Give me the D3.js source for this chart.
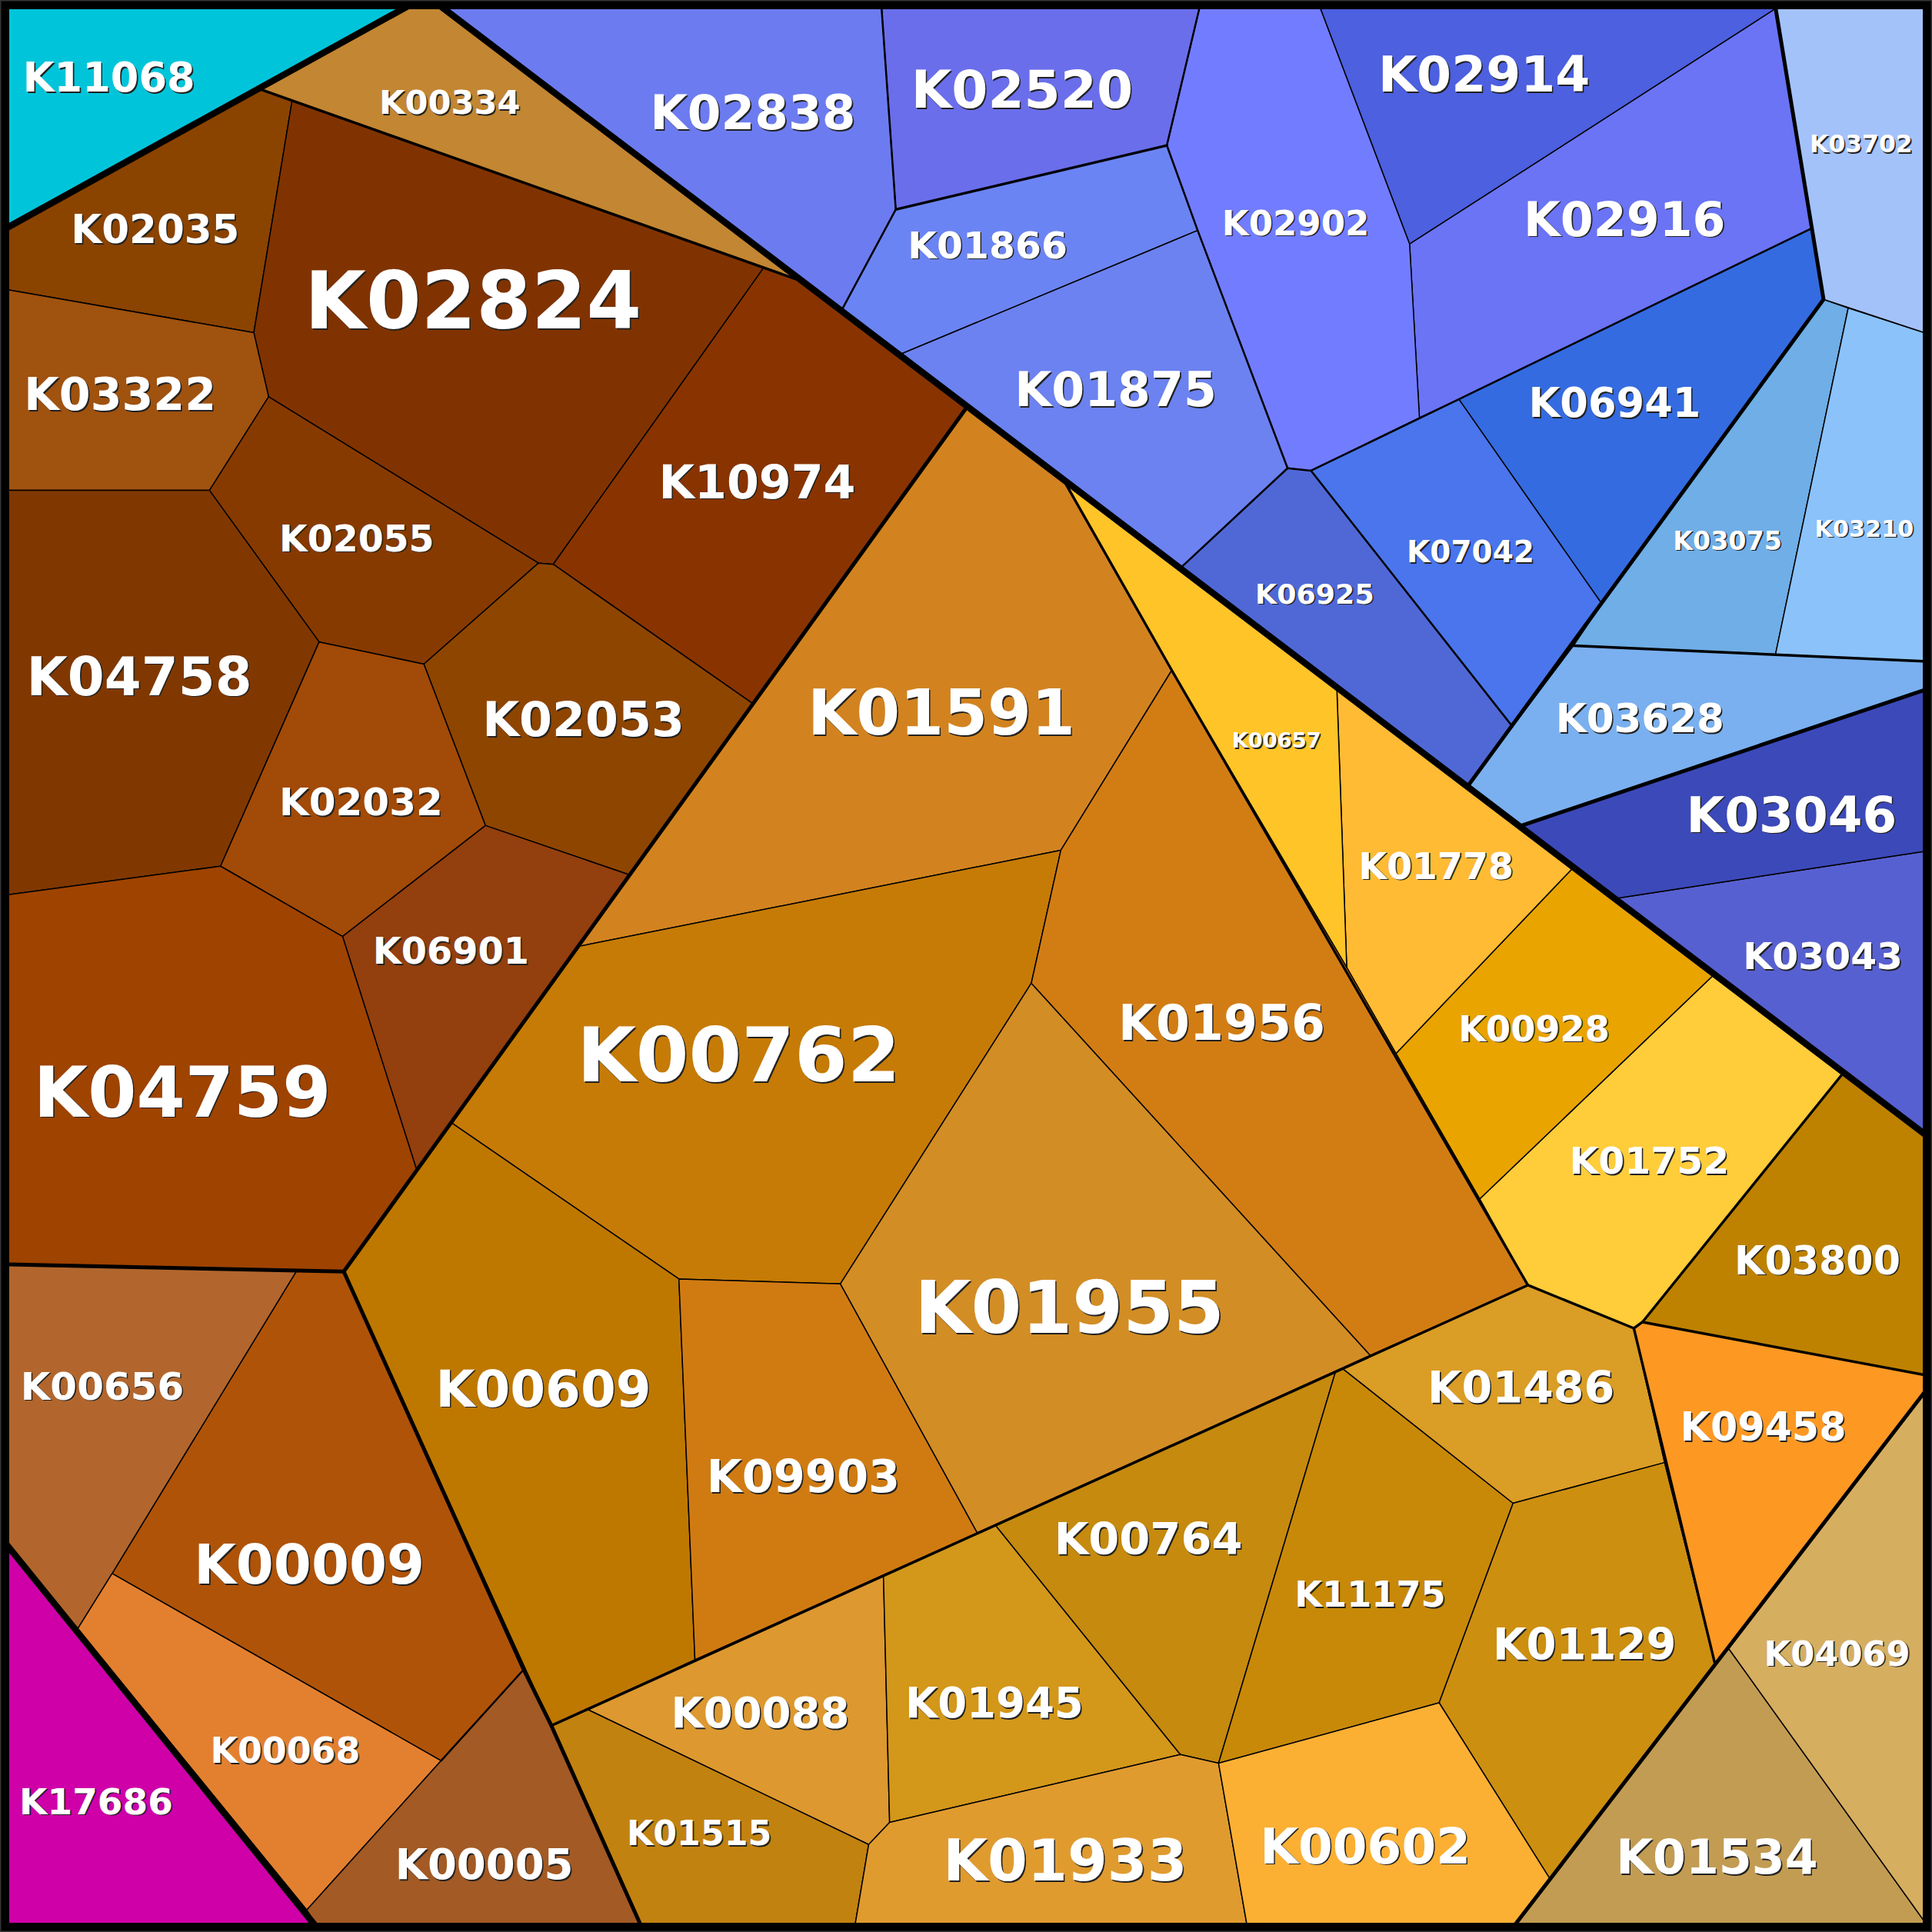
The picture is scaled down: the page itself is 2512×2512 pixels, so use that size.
<!DOCTYPE html>
<html>
<head>
<meta charset="utf-8">
<script src="https://cdn.jsdelivr.net/npm/d3@7"></script>
<style>
html,body {margin:0;padding:0;background:#000;}
svg {display:block;}
text {font-family:"DejaVu Sans";font-weight:bold;text-anchor:middle;}
</style>
</head>
<body>
<div id="chart"></div>
<script>
// cell names
const cellIds = ["K11068","K00334","K02035","K02824","K10974","K03322","K02055","K04758","K02053","K02032","K06901","K04759",
    "K01591","K00762","K01956","K01955","K00609","K09903","K00009","K00656","K00068","K00005","K17686",
    "K00088","K01515","K01945","K00764","K01933","K11175","K01486","K01129","K00602","K09458","K03800","K01752","K00928","K01778","K00657",
    "K01534","K04069","K03043","K03046","K03628","K03075","K03210","K03702","K02916","K02914","K06941","K07042","K06925","K02902","K02520","K01866","K02838","K01875"];

const cellColors = ["#00c5da","#c38632","#8b4300","#803300","#893400","#a0520f","#873a00","#803800","#8e4500","#a24a07","#933f0e","#9f4300",
    "#d28320","#c67b06","#d27d14","#d28d25","#be7800","#d07b12","#af5309","#b2662d","#e38030","#a35a24","#cf00a8",
    "#dd982f","#c28210","#d3971a","#c58a0e","#e09b2f","#c88908","#da9d25","#cc8f10","#fbb034","#fd9823","#be8200","#ffcc3a","#e9a400","#ffbb33","#ffc428",
    "#c29c52","#d6ae60","#5760d0","#3c49b9","#7ab0f0","#6faee6","#8bc2fa","#a4c2fa","#6a74f4","#4c60e0","#346be0","#4a75ec","#5068d6","#727cff","#6a6eeb","#6b84f3","#6c7cf0","#6b82f0"];

// cell outlines in the 1568 wide picture space
const cellPolygons = [
    [[0,0],[340,0],[0,188]],
    [[327,7],[360,7],[653,229],[210,72]],
    [[210,72],[237,82],[206,270],[0,234],[0,188]],
    [[237,82],[620,217],[449,458],[437,457],[218,322],[206,270]],
    [[620,217],[653,229],[785,330],[611,571],[449,458]],
    [[0,234],[206,270],[218,322],[170,398],[0,398]],
    [[218,322],[437,457],[344,539],[259,521],[170,398]],
    [[0,398],[170,398],[259,521],[179,703],[0,727]],
    [[437,457],[449,458],[611,571],[511,710],[394,670],[344,539]],
    [[259,521],[344,539],[394,670],[278,760],[179,703]],
    [[394,670],[511,710],[338,949],[278,760]],
    [[0,727],[179,703],[278,760],[338,949],[279,1032],[0,1026]],
    [[785,330],[864,391],[951,544],[861,690],[470,768]],
    [[470,768],[861,690],[837,798],[682,1042],[551,1038],[366,911]],
    [[951,544],[1093,785],[1133,855],[1201,973],[1240,1043],[1112,1100],[837,798],[861,690]],
    [[837,798],[1112,1100],[793,1244],[682,1042]],
    [[366,911],[551,1038],[564,1347],[447.5,1400.5],[279,1032]],
    [[551,1038],[682,1042],[793,1244],[564,1347]],
    [[241,1031],[279,1032],[425,1355],[358,1429],[91,1277]],
    [[0,1026],[241,1031],[91,1277],[63,1322],[0,1247]],
    [[91,1277],[358,1429],[249,1550],[63,1322]],
    [[425,1355],[447.5,1400.5],[522.5,1568],[260,1568],[249,1550],[358,1429]],
    [[0,1247],[260,1568],[0,1568]],
    [[476,1387],[717,1279],[722,1479],[705,1497]],
    [[447.5,1400.5],[476,1387],[705,1497],[693,1568],[522.5,1568]],
    [[717,1279],[808,1238],[958,1424],[722,1479]],
    [[808,1238],[1084,1113],[989,1431],[958,1424]],
    [[705,1497],[722,1479],[958,1424],[989,1431],[1013,1568],[693,1568]],
    [[1084,1113],[1090,1111],[1228,1220],[1168,1382],[989,1431]],
    [[1090,1111],[1240,1043],[1326,1078],[1351,1187],[1228,1220]],
    [[1228,1220],[1351,1187],[1392,1351],[1258,1525],[1168,1382]],
    [[989,1431],[1168,1382],[1258,1525],[1225,1568],[1013,1568]],
    [[1333,1073],[1568,1117],[1568,1122],[1392,1351],[1351,1187],[1326,1078]],
    [[1495,872],[1568,925],[1568,1117],[1333,1073]],
    [[1390,792],[1495,872],[1333,1073],[1326,1078],[1240,1043],[1201,973]],
    [[1276,705],[1390,792],[1201,973],[1133,855]],
    [[1085,560],[1276,705],[1133,855],[1093,785]],
    [[864,391],[1085,560],[1093,785],[951,544]],
    [[1403,1338],[1568,1568],[1225,1568]],
    [[1403,1338],[1568,1122],[1568,1568]],
    [[1312,729],[1568,690],[1568,925]],
    [[1235,670],[1568,558],[1568,690],[1312,729]],
    [[1192,637],[1277,524],[1441,531],[1568,537],[1568,558],[1235,670]],
    [[1300,490],[1480,243],[1500,250],[1441,531],[1277,524]],
    [[1500,250],[1568,272],[1568,537],[1441,531]],
    [[1440,0],[1568,0],[1568,272],[1480,243]],
    [[1441,7],[1471,185],[1184,324],[1152,339],[1144,198]],
    [[1069,0],[1440,0],[1441,7],[1144,198]],
    [[1471,185],[1480,243],[1300,490],[1184,324]],
    [[1064,382],[1152,339],[1184,324],[1300,490],[1227,589]],
    [[1045,380],[1064,382],[1227,589],[1192,637],[958,461]],
    [[975,0],[1069,0],[1144,198],[1152,339],[1064,382],[1045,380],[972,187],[947,118]],
    [[715,0],[975,0],[947,118],[727,170]],
    [[727,170],[947,118],[972,187],[732,287],[683,252]],
    [[351,0],[715,0],[727,170],[683,252]],
    [[732,287],[972,187],[1045,380],[958,461]]
];

// label centres and widths, same order as cellIds
const labelX = [88.5,365,126,384,614.5,97.5,289.5,113,473.5,293,366,148,
    764,599.5,991.5,868,441,652,251,83,231.5,393,78,
    617,567.5,807,932,864.5,1112,1234.5,1286,1108,1431,1475,1338.5,1245,1165.5,1036,
    1393.5,1491,1479.5,1454,1331,1402,1513,1510.5,1318.5,1204.5,1310.5,1193.5,1067,1051.5,829.5,801.5,611,905.5];
const labelY = [63,83,186,244,391,320,437,549,584,651,772,886,
    578,856,830,1061,1127,1198,1270,1125,1421,1513,1462,
    1390,1488,1382,1249,1510,1294,1126,1335,1498,1158,1023,942,835,703,601,
    1507,1342,776,661,583,439,429,117,178,60,327,448,482,181,72.5,199,91,316];
const labelWidths = [139,114,136,272,159,155,125,182,163,132,126,240,
    216,261,167,250,174,156,186,132,121,144,124,
    144,117,144,152,197,122,151,148,170,134,134,129,122,125,72,
    163,118,129,170,136,88,80,83,163,171,139,103,96,119,179,129,166,163];

// group boundaries of the hierarchy, heaviest first
const borderLevel1 = [
    [[0,188],[340,0]],
    [[351,0],[1568,925]],
    [[0,1247],[260,1568]]
];
const borderLevel2 = [
    [[0,1026],[279,1032],[785,330]],
    [[279,1032],[425,1355],[447.5,1400.5],[522.5,1568]],
    [[1225,1568],[1568,1122]],
    [[1192,637],[1480,243],[1440,0]],
    [[1235,670],[1568,558]]
];
const borderLevel3 = [
    [[210,72],[653,229]],
    [[864,391],[951,544],[1240,1043],[1326,1078],[1333,1073],[1495,872]],
    [[1326,1078],[1392,1351]],
    [[447.5,1400.5],[1240,1043]],
    [[1333,1073],[1568,1117]],
    [[1277,524],[1568,537]],
    [[727,170],[947,118]]
];
const borderLevel4 = [
    [[958,461],[1045,380],[1064,382],[1227,589]],
    [[1045,380],[972,187],[947,118],[975,0]],
    [[1064,382],[1184,324],[1471,185]],
    [[715,0],[727,170],[683,252]],
    [[425,1355],[358,1429]]
];

const size = 2512;
const scale = d3.scaleLinear().domain([0,1568]).range([0,size]);
const closedLine = d3.line().x(d=>scale(d[0])).y(d=>scale(d[1])).curve(d3.curveLinearClosed);
const openLine = d3.line().x(d=>scale(d[0])).y(d=>scale(d[1]));

// width of "K00000" in DejaVu Sans Bold is about 4.23em
function fontSize(i) {return scale(labelWidths[i])/4.23;}

const svg = d3.select("#chart").append("svg")
    .attr("width",size)
    .attr("height",size)
    .attr("viewBox",`0 0 ${size} ${size}`);

svg.append("g").selectAll("path")
    .data(cellIds)
    .enter().append("path")
    .attr("d",(d,i)=>closedLine(cellPolygons[i]))
    .attr("fill",(d,i)=>cellColors[i])
    .attr("stroke","#000")
    .attr("stroke-width",1.5)
    .attr("stroke-linejoin","round");

function drawBorders(lines,width) {
    svg.append("g").selectAll("path")
        .data(lines)
        .enter().append("path")
        .attr("d",openLine)
        .attr("fill","none")
        .attr("stroke","#000")
        .attr("stroke-width",width)
        .attr("stroke-linecap","round")
        .attr("stroke-linejoin","round");
}
drawBorders(borderLevel4,2.5);
drawBorders(borderLevel3,3.4);
drawBorders(borderLevel2,5);
drawBorders(borderLevel1,8.5);

svg.append("rect")
    .attr("width",size)
    .attr("height",size)
    .attr("fill","none")
    .attr("stroke","#000")
    .attr("stroke-width",24);
svg.append("rect")
    .attr("width",size)
    .attr("height",size)
    .attr("fill","none")
    .attr("stroke","#333")
    .attr("stroke-width",3);

// shadow first, then the white label
const shadow = svg.append("g").attr("fill","#222");
const labels = svg.append("g").attr("fill","#fff");
cellIds.forEach(function(id,i) {
    const fs = fontSize(i);
    const px = scale(labelX[i]);
    const py = scale(labelY[i])-0.5;
    shadow.append("text")
        .attr("x",px+1.6)
        .attr("y",py+1.6)
        .attr("dy","0.36em")
        .attr("font-size",fs)
        .text(id);
    labels.append("text")
        .attr("x",px)
        .attr("y",py)
        .attr("dy","0.36em")
        .attr("font-size",fs)
        .text(id);
});
</script>
</body>
</html>
